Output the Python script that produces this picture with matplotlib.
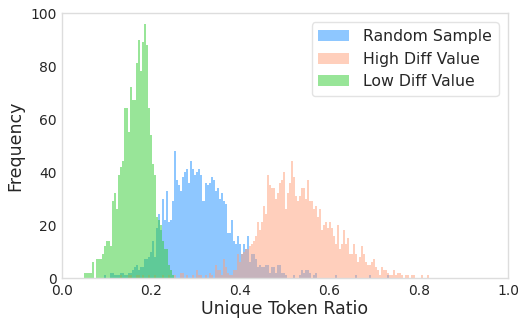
import numpy as np
import matplotlib
matplotlib.use("Agg")
import matplotlib.pyplot as plt

# common bin width for all three histograms
bin_width = 0.0045
edges = np.arange(0, 1.0 + bin_width, bin_width)

# Random Sample: counts per bin, starting at bin index 21
random_start = 21
random_counts = [
    1, 0, 0, 2, 2, 1, 1, 1, 2, 2, 1, 1, 2, 2, 3, 4, 5, 3, 4, 4,         # 21-40
    7, 7, 8, 10, 14, 8, 19, 24, 18, 30, 22, 33, 21, 22, 29, 48, 37, 35, 33, 38,  # 41-60
    40, 41, 36, 44, 41, 39, 40, 41, 39, 29, 36, 35, 36, 38, 37, 33, 34, 30, 32, 29,  # 61-80
    28, 17, 17, 22, 14, 13, 16, 13, 9, 13, 11, 16, 6, 9, 9, 7, 4, 5, 4, 4,  # 81-100
    5, 5, 2, 4, 4, 2, 5, 5, 2, 2, 1, 0, 0, 0, 1, 0, 0, 1, 3, 2,        # 101-120
    3, 3, 2, 0, 1, 2, 0, 0, 0, 0, 0, 0, 0, 0, 0, 1, 0, 0, 0, 0,        # 121-140
    0, 0, 0, 0, 0, 1, 0, 0, 0, 0, 0, 0, 1, 0, 0, 0, 0, 0, 0, 0,        # 141-160
    0, 1,                                                              # 161-162
]

# High Diff Value: counts per bin, starting at bin index 29
high_start = 29
high_counts = [
    1, 0, 0, 0, 1, 1, 0, 0, 1, 1, 0, 1, 0, 0, 1, 0, 0, 1, 0, 0,        # 29-48
    0, 1, 0, 0, 1, 0, 0, 1, 0, 0, 2, 2, 0, 1, 0, 0, 1, 0, 3, 1,        # 49-68
    1, 0, 1, 0, 2, 1, 0, 5, 3, 3, 1, 7, 4, 2, 1, 1, 3, 3, 9, 6,        # 69-88
    9, 10, 11, 11, 12, 13, 14, 16, 21, 18, 21, 27, 24, 39, 35, 34, 34, 30, 32, 36,  # 89-108
    37, 40, 26, 32, 36, 44, 38, 31, 29, 31, 34, 34, 30, 37, 29, 29, 26, 27, 23, 26,  # 109-128
    18, 20, 21, 19, 21, 19, 16, 13, 20, 11, 13, 18, 13, 15, 9, 9, 13, 9, 6, 8,  # 129-148
    12, 9, 6, 5, 5, 6, 7, 4, 3, 1, 4, 3, 3, 2, 1, 1, 3, 1, 2, 2,       # 149-168
    1, 0, 1, 1, 0, 1, 1, 0, 0, 0, 1, 0, 0, 1,                          # 169-182
]

# Low Diff Value: counts per bin, starting at bin index 11
low_start = 11
low_counts = [
    2, 2, 2, 2, 6, 0, 7, 7, 7, 9, 12, 14, 14, 12, 29, 32, 26, 39, 42, 44,  # 11-30
    64, 64, 55, 72, 67, 67, 81, 90, 78, 89, 96, 88, 64, 54, 43, 39, 23, 22, 20, 14,  # 31-50
    11, 11, 5, 3, 1,                                                   # 51-55
]

series = [
    ("Random Sample", random_start, random_counts, "#1E90FF"),
    ("High Diff Value", high_start, high_counts, "#FFA07A"),
    ("Low Diff Value", low_start, low_counts, "#32CD32"),
]

plt.rcParams["font.family"] = "DejaVu Sans"
text_color = "#262626"

fig = plt.figure(figsize=(5.18, 3.2), dpi=100)
ax = fig.add_axes([0.1197, 0.13125, 0.861, 0.828])

for label, start, counts, color in series:
    counts = np.array(counts, dtype=float)
    lo = edges[start:start + len(counts)]
    centers = lo + bin_width / 2
    ax.hist(centers, bins=edges, weights=counts, histtype="stepfilled",
            color=color, alpha=0.5, linewidth=0, label=label)

ax.set_xlim(0, 1)
ax.set_ylim(0, 100)
ax.set_xticks(np.arange(0, 1.01, 0.2))
ax.set_yticks(np.arange(0, 101, 20))
ax.tick_params(length=0, labelsize=10, labelcolor=text_color, pad=4)

for spine in ax.spines.values():
    spine.set_color("#dddddd")
    spine.set_linewidth(1)

ax.set_xlabel("Unique Token Ratio", fontsize=12.5, color=text_color, labelpad=2)
ax.set_ylabel("Frequency", fontsize=12.5, color=text_color, labelpad=4)

leg = ax.legend(loc="upper right", fontsize=11.3, frameon=True,
                borderaxespad=0.6, handletextpad=0.9)
leg.get_frame().set_edgecolor("#dddddd")
for t in leg.get_texts():
    t.set_color(text_color)

fig.savefig("out.png", dpi=100)
